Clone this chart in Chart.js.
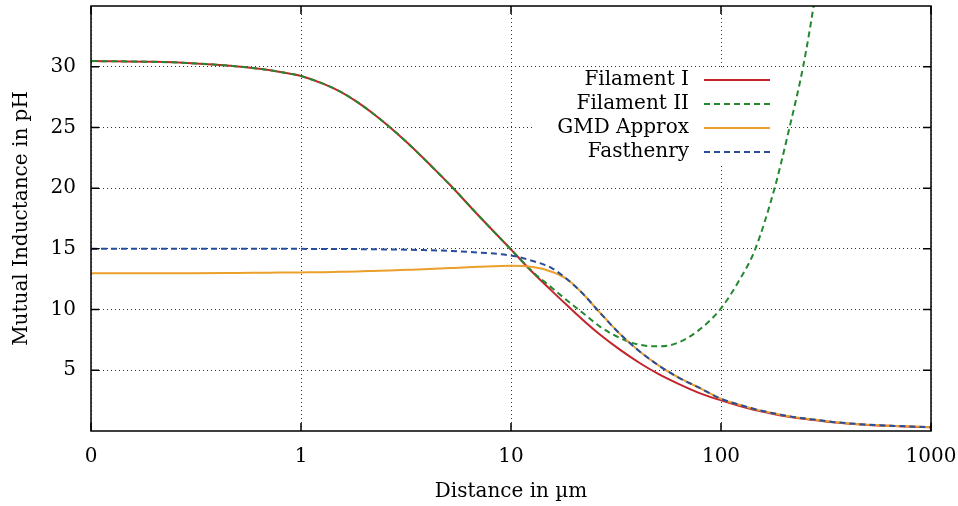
<!DOCTYPE html>
<html>
<head>
<meta charset="utf-8">
<script src="https://cdn.jsdelivr.net/npm/chart.js@4.4.1/dist/chart.umd.min.js"></script>
<style>
  html, body { margin: 0; padding: 0; background: #fff; }
</style>
</head>
<body>
<canvas id="inductChart" width="958" height="506"></canvas>
<script>
// distances in um (0.1 is shown as "0" on the axis)
var distances = [0.1, 0.2, 0.3, 0.5, 0.7, 0.89, 1, 1.28, 1.53, 1.84, 2.21, 2.65, 3.18, 3.82, 4.59, 5.13, 7, 10, 12.7, 15.5, 18.5, 22, 26.5, 33, 41, 50, 62, 79, 100, 123, 145, 180, 210, 246, 276, 340, 500, 700, 1000];

// mutual inductance in pH
var filamentI = [30.47, 30.4, 30.29, 30.02, 29.73, 29.42, 29.23, 28.59, 27.97, 27.13, 26.13, 25.02, 23.8, 22.48, 21.1, 20.26, 17.75, 14.95, 13.05, 11.6, 10.35, 9.15, 7.95, 6.7, 5.6, 4.72, 3.92, 3.12, 2.52, 2.05, 1.72, 1.38, 1.17, 1.0, 0.9, 0.72, 0.5, 0.4, 0.31];
var filamentII = [30.47, 30.4, 30.29, 30.02, 29.73, 29.42, 29.23, 28.59, 27.97, 27.13, 26.13, 25.02, 23.8, 22.48, 21.1, 20.26, 17.75, 14.95, 13.1, 11.85, 10.75, 9.72, 8.6, 7.66, 7.1, 6.97, 7.25, 8.35, 10.1, 12.5, 14.9, 20.0, 24.7, 30.0, 35.0, 46.0, null, null, null];
var gmdApprox = [13.0, 13.0, 13.0, 13.02, 13.04, 13.05, 13.06, 13.08, 13.11, 13.14, 13.18, 13.22, 13.27, 13.32, 13.38, 13.42, 13.52, 13.6, 13.5, 13.14, 12.5, 11.3, 9.75, 8.0, 6.55, 5.45, 4.45, 3.55, 2.65, 2.15, 1.8, 1.44, 1.22, 1.05, 0.94, 0.75, 0.52, 0.41, 0.31];
var fasthenry = [15.0, 15.0, 15.0, 15.0, 15.0, 15.0, 15.0, 14.99, 14.99, 14.98, 14.97, 14.95, 14.93, 14.9, 14.86, 14.83, 14.7, 14.45, 14.0, 13.45, 12.5, 11.3, 9.75, 8.0, 6.55, 5.45, 4.45, 3.55, 2.65, 2.15, 1.8, 1.44, 1.22, 1.05, 0.94, 0.75, 0.52, 0.41, 0.31];

var xTicks = [0.1, 1, 10, 100, 1000];
var yTicks = [5, 10, 15, 20, 25, 30];

var fontFam = '"DejaVu Serif", "Liberation Serif", serif';

function points(vals) {
  return distances.map(function (d, i) { return { x: d, y: vals[i] }; });
}

function serie(label, vals, color, dash, order) {
  return {
    label: label,
    data: points(vals),
    borderColor: color,
    backgroundColor: color,
    borderWidth: 2,
    borderDash: dash,
    pointRadius: 0,
    fill: false,
    cubicInterpolationMode: 'monotone',
    order: order
  };
}

// no extra room for overflowing tick labels, the layout padding handles it
function noPad(scale) {
  scale.paddingLeft = 0;
  scale.paddingRight = 0;
  scale.paddingTop = 0;
  scale.paddingBottom = 0;
}

// frame, inner tick marks and the gnuplot style legend
var framePlugin = {
  id: 'frame',
  beforeDatasetsDraw: function (chart) {
    var ctx = chart.ctx;
    ctx.save();
    ctx.fillStyle = '#fff';
    ctx.fillRect(532, 67, 255, 98);
    ctx.restore();
  },
  afterDraw: function (chart) {
    var ctx = chart.ctx;
    var a = chart.chartArea;
    var sx = chart.scales.x, sy = chart.scales.y;
    ctx.save();
    ctx.strokeStyle = '#000';
    ctx.lineWidth = 1.5;
    ctx.beginPath();
    xTicks.forEach(function (v) {
      var px = sx.getPixelForValue(v);
      ctx.moveTo(px, a.bottom); ctx.lineTo(px, a.bottom - 8);
      ctx.moveTo(px, a.top); ctx.lineTo(px, a.top + 8);
    });
    yTicks.forEach(function (v) {
      var py = sy.getPixelForValue(v);
      ctx.moveTo(a.left, py); ctx.lineTo(a.left + 8, py);
      ctx.moveTo(a.right, py); ctx.lineTo(a.right - 8, py);
    });
    ctx.stroke();
    ctx.strokeRect(a.left, a.top, a.right - a.left, a.bottom - a.top);

    // legend
    ctx.font = '20px ' + fontFam;
    ctx.textAlign = 'right';
    ctx.textBaseline = 'middle';
    chart.data.datasets.forEach(function (ds, i) {
      var ry = 80 + i * 24;
      ctx.fillStyle = '#000';
      ctx.fillText(ds.label, 689, ry);
      ctx.strokeStyle = ds.borderColor;
      ctx.lineWidth = 2;
      ctx.setLineDash(ds.borderDash || []);
      ctx.beginPath();
      ctx.moveTo(704, ry);
      ctx.lineTo(770, ry);
      ctx.stroke();
      ctx.setLineDash([]);
    });
    ctx.restore();
  }
};

var ctx = document.getElementById('inductChart').getContext('2d');

var inductChart = new Chart(ctx, {
  type: 'line',
  data: {
    datasets: [
      serie('Filament I', filamentI, '#c3242b', [], 4),
      serie('Filament II', filamentII, '#23892f', [6, 4], 3),
      serie('GMD Approx', gmdApprox, '#eba02b', [], 2),
      serie('Fasthenry', fasthenry, '#274d9b', [6, 4], 1)
    ]
  },
  options: {
    responsive: false,
    animation: false,
    layout: { padding: { top: 6, right: 27, left: 0, bottom: 0 } },
    plugins: {
      legend: { display: false },
      tooltip: { enabled: false }
    },
    scales: {
      x: {
        type: 'logarithmic',
        min: 0.1,
        max: 1000,
        afterBuildTicks: function (scale) {
          scale.ticks = xTicks.map(function (v) { return { value: v }; });
        },
        afterFit: function (scale) { scale.height = 75; noPad(scale); },
        ticks: {
          color: '#000',
          font: { family: fontFam, size: 20 },
          padding: 14,
          maxRotation: 0,
          autoSkip: false,
          callback: function (v) { return v === 0.1 ? '0' : String(v); }
        },
        grid: { color: 'rgba(0,0,0,0.8)', lineWidth: 1, drawTicks: false },
        border: { display: false, dash: [1, 3] },
        title: {
          display: true,
          text: 'Distance in \u00b5m',
          color: '#000',
          font: { family: fontFam, size: 20 },
          padding: { top: 0, bottom: 2 }
        }
      },
      y: {
        min: 0,
        max: 35,
        afterBuildTicks: function (scale) {
          scale.ticks = yTicks.map(function (v) { return { value: v }; });
        },
        afterFit: function (scale) { scale.width = 91; noPad(scale); },
        ticks: {
          color: '#000',
          font: { family: fontFam, size: 20 },
          padding: 15
        },
        grid: { color: 'rgba(0,0,0,0.8)', lineWidth: 1, drawTicks: false },
        border: { display: false, dash: [1, 3] },
        title: {
          display: true,
          text: 'Mutual Inductance in pH',
          color: '#000',
          font: { family: fontFam, size: 20 },
          padding: { top: 10, bottom: 0 }
        }
      }
    }
  },
  plugins: [framePlugin]
});
</script>
</body>
</html>
